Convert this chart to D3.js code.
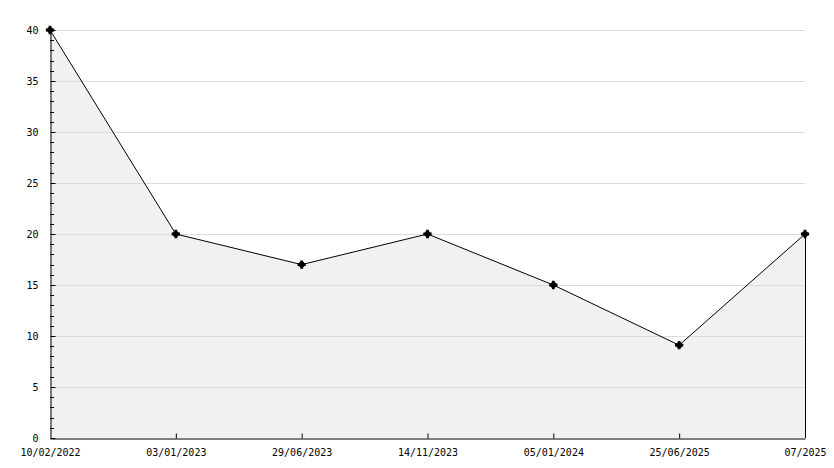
<!DOCTYPE html>
<html><head><meta charset="utf-8">
<script src="https://cdn.jsdelivr.net/npm/d3@7"></script>
<style>
html,body{margin:0;padding:0;background:#fff;}
text{font-family:"DejaVu Sans Mono",monospace;font-size:10px;fill:#000;}
</style></head>
<body><svg id="c" width="834" height="468"></svg>
<script>
const categories = ["10/02/2022","03/01/2023","29/06/2023","14/11/2023","05/01/2024","25/06/2025","07/2025"];
const values = [40, 20, 17, 20, 15, 9.1, 20];
const yTicks = [0,5,10,15,20,25,30,35,40];

const svg = d3.select("#c");
const m = {l:50, r:805, t:30, b:438};
const x = d3.scalePoint().domain(categories).range([m.l, m.r]);
const y = d3.scaleLinear().domain([0,40]).range([m.b, m.t]);
const data = categories.map((c,i)=>({c, v:values[i]}));

// area
svg.append("path").datum(data)
  .attr("d", d3.area().x(d=>x(d.c)).y0(y(0)).y1(d=>y(d.v)))
  .attr("fill","#f1f1f1");

// gridlines
svg.append("g").selectAll("line").data(yTicks.filter(t=>t>0)).join("line")
  .attr("x1",m.l).attr("x2",m.r).attr("y1",d=>Math.round(y(d))+0.5).attr("y2",d=>Math.round(y(d))+0.5)
  .attr("stroke","#dcdcdc").attr("stroke-width",1);

// line
svg.append("path").datum(data)
  .attr("d", d3.line().x(d=>x(d.c)).y(d=>y(d.v)))
  .attr("fill","none").attr("stroke","#000").attr("stroke-width",1);

// right edge
const last = data[data.length-1];
svg.append("line").attr("x1",x(last.c)+0.5).attr("x2",x(last.c)+0.5)
  .attr("y1",y(last.v)).attr("y2",y(0)).attr("stroke","#000");

// y axis
const yAxis = d3.axisLeft(y).tickValues(yTicks).tickSizeInner(-5).tickSizeOuter(0).tickPadding(12);
const gy = svg.append("g").attr("transform",`translate(${m.l+0.5},0)`).call(yAxis);
gy.select(".domain").attr("stroke","#000");
gy.selectAll("text").style("font-family","DejaVu Sans Mono").style("font-size","10px");
// minor ticks
const minor = d3.range(0,41).filter(v=>v%5!==0);
svg.append("g").selectAll("line").data(minor).join("line")
  .attr("x1",m.l).attr("x2",m.l+4).attr("y1",d=>Math.round(y(d))+0.5).attr("y2",d=>Math.round(y(d))+0.5)
  .attr("stroke","#000");

// x axis
const xAxis = d3.axisBottom(x).tickSizeInner(-5).tickSizeOuter(0).tickPadding(10);
const gx = svg.append("g").attr("transform",`translate(0,${m.b+0.5})`).call(xAxis);
gx.select(".domain").attr("stroke","#000");
gx.selectAll(".tick line").filter((d,i)=>i===0||i===categories.length-1).remove();
gx.selectAll("text").style("font-family","DejaVu Sans Mono").style("font-size","10px");

// markers
const g = svg.append("g");
data.forEach(d=>{
  const cx = x(d.c), cy = y(d.v);
  g.append("circle").attr("cx",cx).attr("cy",cy).attr("r",3).attr("fill","#000");
  g.append("path").attr("d", d3.symbol(d3.symbolCross, 38)()).attr("transform",`translate(${cx},${cy})`).attr("fill","#000");
});
</script></body></html>
